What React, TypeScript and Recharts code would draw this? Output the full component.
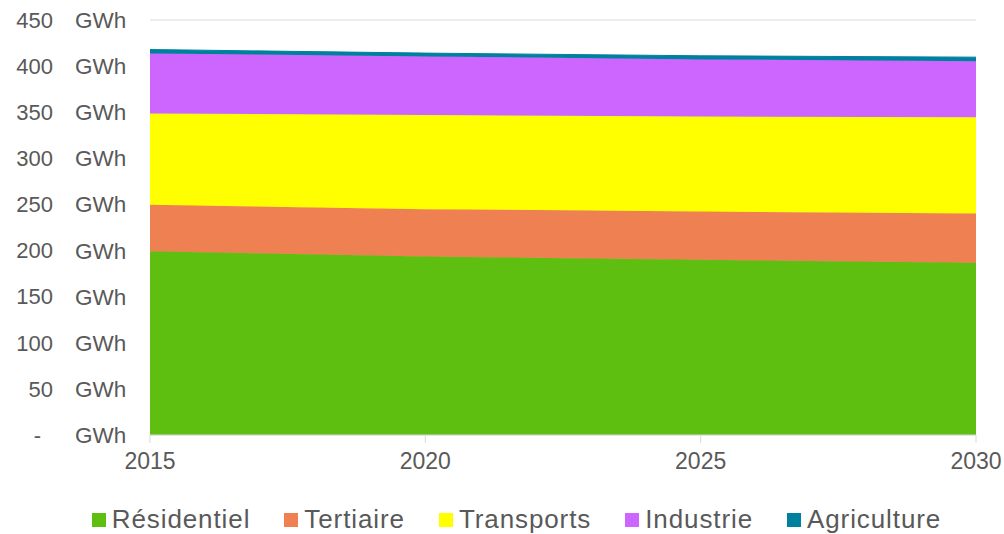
import { AreaChart, Area, XAxis, YAxis, CartesianGrid, Legend } from "recharts";

const years = [2015, 2020, 2025, 2030];
const residentiel = [199.3, 193.6, 190.0, 186.7];
const tertiaire = [50.3, 51.3, 52.4, 53.5];
const transports = [99.0, 102.0, 103.0, 104.4];
const industrie = [65.1, 63.6, 61.8, 60.7];
const agriculture = [4.3, 3.6, 4.0, 4.4];

const yTicks = [0, 50, 100, 150, 200, 250, 300, 350, 400, 450];
const xTicks = [2015, 2020, 2025, 2030];

const series = [
  { key: "residentiel", name: "Résidentiel", color: "#5FBF10" },
  { key: "tertiaire", name: "Tertiaire", color: "#EE8052" },
  { key: "transports", name: "Transports", color: "#FFFF00" },
  { key: "industrie", name: "Industrie", color: "#CC66FF" },
  { key: "agriculture", name: "Agriculture", color: "#00809F" },
];

const data = years.map((year, i) => ({
  year,
  residentiel: residentiel[i],
  tertiaire: tertiaire[i],
  transports: transports[i],
  industrie: industrie[i],
  agriculture: agriculture[i],
}));

const FONT = '"Liberation Sans", Arial, sans-serif';
const TEXT = "#595959";

function YTick({ y, payload }: any) {
  const v = payload.value;
  return (
    <g>
      <text x={v === 0 ? 41 : 53} y={y} dy="0.355em" textAnchor="end" fill={TEXT} fontSize={22} fontFamily={FONT}>
        {v === 0 ? "-" : v}
      </text>
      <text x={75} y={y} dy="0.355em" textAnchor="start" fill={TEXT} fontSize={22.5} fontFamily={FONT}>
        GWh
      </text>
    </g>
  );
}

function LegendContent() {
  return (
    <div style={{ display: "flex", justifyContent: "center", alignItems: "center", gap: 34, paddingTop: 20, paddingLeft: 57, fontFamily: FONT, color: TEXT, fontSize: 26, letterSpacing: 0.9 }}>
      {series.map((s) => (
        <div key={s.key} style={{ display: "flex", alignItems: "center" }}>
          <span style={{ display: "inline-block", width: 14, height: 14, background: s.color, marginRight: 6 }} />
          <span>{s.name}</span>
        </div>
      ))}
    </div>
  );
}

export default function App() {
  return (
    <div style={{ width: 1004, height: 534, background: "#fff" }}>
      <style>{`body{margin:0}`}</style>
      <AreaChart width={1004} height={534} data={data} margin={{ top: 20, right: 28, left: 0, bottom: 0 }}>
        <CartesianGrid horizontal vertical={false} stroke="#D9D9D9" />
        <XAxis
          type="number"
          dataKey="year"
          domain={[2015, 2030]}
          ticks={xTicks}
          height={49}
          stroke="#D9D9D9"
          tickSize={8}
          tickMargin={10}
          tick={{ fill: TEXT, fontSize: 23, fontFamily: FONT }}
        />
        <YAxis
          domain={[0, 450]}
          ticks={yTicks}
          width={150}
          axisLine={false}
          tickLine={false}
          tick={<YTick />}
        />
        {series.map((s) => (
          <Area
            key={s.key}
            type="linear"
            dataKey={s.key}
            name={s.name}
            stackId="1"
            stroke={s.color}
            strokeWidth={1}
            fill={s.color}
            fillOpacity={1}
            dot={false}
            activeDot={false}
            isAnimationActive={false}
          />
        ))}
        <Legend verticalAlign="bottom" height={50} content={<LegendContent />} />
      </AreaChart>
    </div>
  );
}
